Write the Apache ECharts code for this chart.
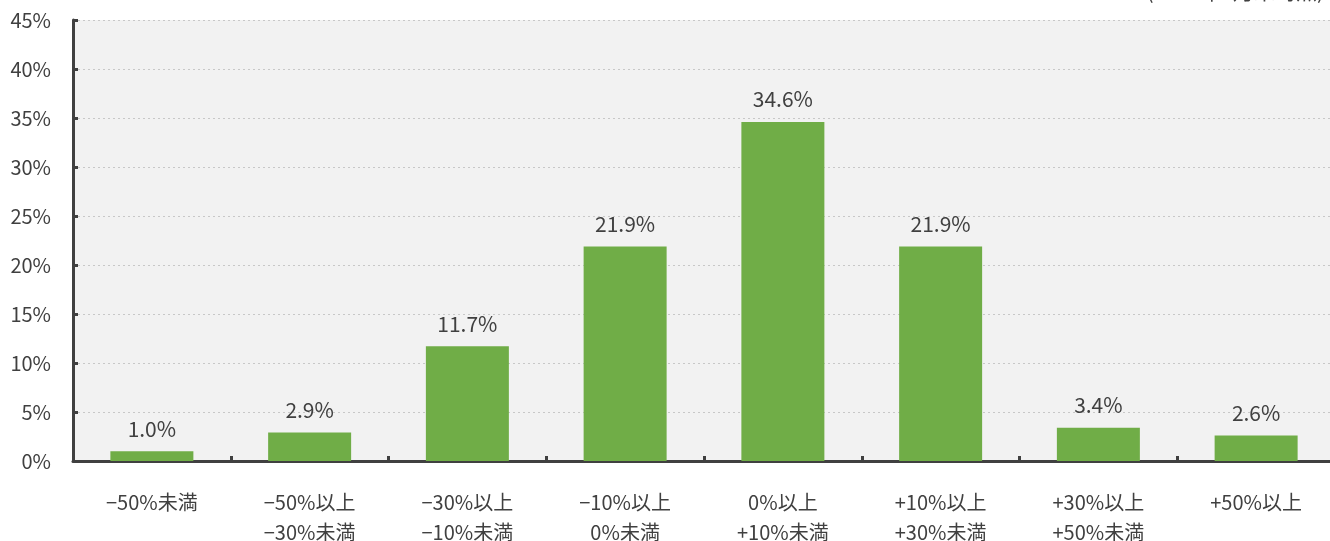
<!DOCTYPE html>
<html>
<head>
<meta charset="utf-8">
<script src="https://cdn.jsdelivr.net/npm/echarts@6/dist/echarts.min.js"></script>
<style>
  html, body { margin: 0; padding: 0; background: #fff; }
  #main { width: 1330px; height: 541px; }
</style>
</head>
<body>
<div id="main"></div>
<script>
  // カテゴリ（騰落率の区分）
  var categories = ['−50%未満', '−50%以上\n−30%未満', '−30%以上\n−10%未満', '−10%以上\n0%未満',
                    '0%以上\n+10%未満', '+10%以上\n+30%未満', '+30%以上\n+50%未満', '+50%以上'];
  // 構成比（%）
  var shares = [1.0, 2.9, 11.7, 21.9, 34.6, 21.9, 3.4, 2.6];
  var noteText = '(2024年3月末時点)';

  var font = '"Noto Sans CJK JP", "Noto Sans", sans-serif';
  var myChart = echarts.init(document.getElementById('main'));

  var option = {
    animation: false,
    textStyle: { fontFamily: font },
    grid: { left: 73, top: 20, width: 1262, height: 441, outerBoundsMode: 'none', containLabel: false,
            show: true, backgroundColor: '#f2f2f2', borderWidth: 0 },
    graphic: [{
      type: 'text', right: 6, top: -19,
      style: { text: noteText, fontSize: 21, fill: '#404040', fontFamily: font }
    }],
    xAxis: {
      type: 'category',
      data: categories,
      axisLine: { lineStyle: { color: '#404040', width: 3 } },
      axisTick: { show: true, inside: true, length: 5, alignWithLabel: false,
                  lineStyle: { color: '#404040', width: 3 } },
      axisLabel: { color: '#404040', fontSize: 20, margin: 26, lineHeight: 30, fontFamily: font }
    },
    yAxis: {
      type: 'value',
      min: 0, max: 45, interval: 5,
      axisLine: { show: true, lineStyle: { color: '#404040', width: 3 } },
      axisTick: { show: true, inside: true, length: 5, lineStyle: { color: '#404040', width: 3 } },
      axisLabel: { color: '#404040', fontSize: 20, margin: 22, formatter: '{value}%', fontFamily: font },
      splitLine: { show: true, lineStyle: { color: '#c8c8c8', type: [2, 3], width: 1 } }
    },
    series: [{
      type: 'bar',
      data: shares,
      barWidth: 83,
      itemStyle: { color: '#70ad47' },
      label: {
        show: true, position: 'top', distance: 12,
        color: '#404040', fontSize: 21, fontFamily: font,
        formatter: function (p) { return p.value.toFixed(1) + '%'; }
      }
    }]
  };

  myChart.setOption(option);
</script>
</body>
</html>
